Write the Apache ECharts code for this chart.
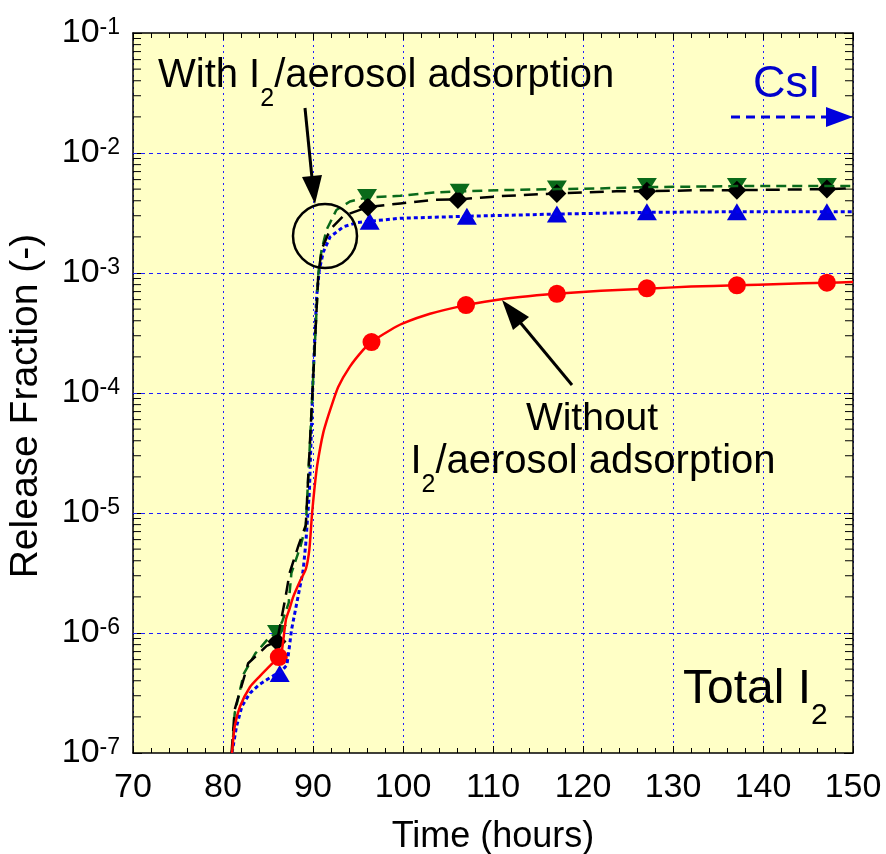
<!DOCTYPE html>
<html>
<head>
<meta charset="utf-8">
<script src="https://cdn.jsdelivr.net/npm/echarts@6/dist/echarts.min.js"></script>
<style>
html, body { margin: 0; padding: 0; background: #fff; }
#chart { width: 886px; height: 854px; }
</style>
</head>
<body>
<div id="chart"></div>
<script>
// Total I2 release fraction vs time (with / without I2-aerosol adsorption)
var xTicks = [70, 80, 90, 100, 110, 120, 130, 140, 150];
var yDecades = [-7, -6, -5, -4, -3, -2, -1];

// red solid : without adsorption
var redLine = [[81.0,1.0e-7],[81.3,1.66e-7],[81.9,2.45e-7],[83.0,3.55e-7],[84.1,4.37e-7],[85.4,5.5e-7],
  [86.2,6.3e-7],[86.5,6.8e-7],[87.0,1.3e-6],[87.4,1.6e-6],[87.8,2.0e-6],[88.6,2.75e-6],[89.2,3.4e-6],
  [89.6,5.0e-6],[89.9,1.0e-5],[90.4,2.3e-5],[90.8,3.5e-5],[91.15,4.7e-5],[91.5,5.8e-5],[91.9,7.2e-5],
  [92.8,1.12e-4],[94.1,1.66e-4],[95.6,2.3e-4],[96.5,2.66e-4],[98.6,3.35e-4],[100,3.8e-4],[103,4.57e-4],
  [107,5.4e-4],[110,5.9e-4],[113,6.3e-4],[117,6.7e-4],[122,7.1e-4],[127,7.4e-4],[132,7.7e-4],
  [137,7.9e-4],[142,8.1e-4],[147,8.3e-4],[150,8.4e-4]];
var redPts = [[86.2,6.3e-7],[96.5,2.66e-4],[107,5.4e-4],[117.1,6.7e-4],[127.1,7.45e-4],[137.1,7.9e-4],[147.1,8.3e-4]];

// blue dotted
var blueLine = [[81.0,1.0e-7],[81.5,1.66e-7],[82.1,2.45e-7],[83.0,3.16e-7],[84.0,3.7e-7],[84.9,4.1e-7],
  [85.8,4.5e-7],[86.5,4.8e-7],[87.1,5.4e-7],[87.4,7.9e-7],[87.6,1.05e-6],[88.2,1.78e-6],[88.9,3.3e-6],
  [89.2,5.6e-6],[89.6,1.5e-5],[90.0,1.3e-4],[90.4,6.3e-4],[90.7,1.06e-3],[91.15,1.5e-3],[91.9,2.0e-3],
  [93.4,2.43e-3],[94.9,2.63e-3],[96.3,2.7e-3],[99.7,2.86e-3],[107.1,2.97e-3],[117.1,3.1e-3],
  [127.1,3.2e-3],[137.1,3.24e-3],[150,3.24e-3]];
var bluePts = [[86.3,4.6e-7],[96.3,2.7e-3],[107.1,2.97e-3],[117.1,3.1e-3],[127.1,3.24e-3],[137.1,3.24e-3],[147.1,3.24e-3]];

// green dashed
var greenLine = [[81.0,1.0e-7],[81.3,2.14e-7],[82.3,4.57e-7],[83.6,6.76e-7],[85.2,9.3e-7],[86.0,1.0e-6],
  [86.6,1.26e-6],[87.3,1.78e-6],[87.6,3.16e-6],[88.6,5.25e-6],[89.2,7.8e-6],[90.6,1.0e-3],[90.95,1.55e-3],
  [91.5,2.29e-3],[92.6,3.35e-3],[94.1,3.94e-3],[96.0,4.27e-3],[99.7,4.4e-3],[103.4,4.68e-3],[106.3,4.79e-3],
  [110.8,4.9e-3],[117.1,5.0e-3],[121.9,5.07e-3],[127.1,5.2e-3],[133,5.25e-3],[137.1,5.3e-3],[150,5.3e-3]];
var greenPts = [[86.0,1.0e-6],[96.0,4.3e-3],[106.3,4.76e-3],[117.1,5.05e-3],[127.1,5.3e-3],[137.1,5.3e-3],[147.1,5.3e-3]];

// black long dashed
var blackLine = [[80.95,1.0e-7],[81.3,2.3e-7],[82.8,5.6e-7],[84.85,7.8e-7],[86.0,8.5e-7],[86.9,1.9e-6],
  [87.4,3.16e-6],[88.4,5.4e-6],[89.2,7.9e-6],[90.6,1.0e-3],[91.0,1.6e-3],[91.9,2.3e-3],[93.4,3.0e-3],
  [96.1,3.55e-3],[99.7,3.8e-3],[103.4,4.07e-3],[106.1,4.1e-3],[110.8,4.37e-3],[117.1,4.6e-3],
  [123.7,4.8e-3],[127.1,4.8e-3],[133,4.9e-3],[137.1,4.9e-3],[147.1,5.0e-3],[150,5.1e-3]];
var blackPts = [[86.0,8.5e-7],[96.1,3.55e-3],[106.1,4.1e-3],[117.1,4.6e-3],[127.1,4.8e-3],[137.1,4.9e-3],[147.1,5.0e-3]];

// decade grid lines and log minor ticks (2..9 in each decade)
var decadeVals = yDecades.slice(1, -1).map(function (e) { return [70, Math.pow(10, e)]; });
var minorMult = [2, 3, 4, 5, 6, 7, 8, 9];
var minorVals = [];
for (var k = -7; k < -1; k++) {
  minorMult.forEach(function (m) { minorVals.push([70, m * Math.pow(10, k)]); });
}

var FONT = 'Liberation Sans, Arial, Helvetica, sans-serif';
var GRIDBLUE = '#1e1eff';
var chart = echarts.init(document.getElementById('chart'));

function xAxisCfg(pos) {
  return {
    type: 'value', min: xTicks[0], max: xTicks[xTicks.length - 1], interval: 10, position: pos,
    axisLine: { show: true, onZero: false, lineStyle: { color: '#000', width: 1.5 } },
    axisTick: { show: true, inside: true, length: 7, lineStyle: { color: '#000' } },
    minorTick: { show: true, splitNumber: 5, length: 5, lineStyle: { color: '#000' } },
    splitLine: { show: pos === 'bottom', lineStyle: { color: GRIDBLUE, type: [2, 4], width: 1 } },
    axisLabel: { show: pos === 'bottom', fontSize: 34, color: '#000', fontFamily: FONT, margin: 18 },
    name: pos === 'bottom' ? 'Time (hours)' : '', nameLocation: 'middle', nameGap: 66,
    nameTextStyle: { fontSize: 36, fontFamily: FONT, color: '#000' }
  };
}
function yAxisCfg(pos) {
  return {
    type: 'log', logBase: 10, min: Math.pow(10, yDecades[0]), max: Math.pow(10, yDecades[yDecades.length - 1]),
    position: pos,
    axisLine: { show: true, onZero: false, lineStyle: { color: '#000', width: 1.5 } },
    axisTick: { show: true, inside: true, length: 9, lineStyle: { color: '#000' } },
    splitLine: { show: false },
    axisLabel: {
      show: pos === 'left', margin: 13, color: '#000', fontFamily: FONT,
      formatter: function (v) { return '{b|10}{e|' + Math.round(Math.log10(v)) + '}'; },
      rich: {
        b: { fontSize: 34, lineHeight: 34, fontFamily: FONT, color: '#000', verticalAlign: 'bottom', padding: [4, 0, 0, 0] },
        e: { fontSize: 23, lineHeight: 23, fontFamily: FONT, color: '#000', verticalAlign: 'top' }
      }
    },
    name: pos === 'left' ? 'Release Fraction (-)' : '', nameLocation: 'middle', nameGap: 87,
    nameTextStyle: { fontSize: 39, fontFamily: FONT, color: '#000', padding: [0, 26, 0, 0] }
  };
}

var richSub = function (size, pad) {
  return {
    a: { fontSize: size, lineHeight: size, fontFamily: FONT, verticalAlign: 'top' },
    s: { fontSize: Math.round(size * 0.62), lineHeight: Math.round(size * 0.62), fontFamily: FONT, verticalAlign: 'top', padding: [pad, 0, 0, 0] }
  };
};

var option = {
  animation: false,
  backgroundColor: '#ffffff',
  grid: { left: 133, right: 33, top: 33, bottom: 101, outerBoundsMode: 'none', containLabel: false,
    show: true, backgroundColor: '#ffffc6', borderWidth: 0 },
  xAxis: [xAxisCfg('bottom'), xAxisCfg('top')],
  yAxis: [yAxisCfg('left'), yAxisCfg('right')],
  series: [
    {
      // horizontal dashed grid lines at each decade
      type: 'custom', silent: true, z: 1, clip: false, encode: { x: 0, y: 1 },
      renderItem: function (params, api) {
        var l = api.coord([70, api.value(1)]);
        var r = api.coord([150, api.value(1)]);
        var y = Math.round(l[1]) + 0.5;
        return { type: 'line', shape: { x1: l[0], y1: y, x2: r[0], y2: y },
          style: { stroke: GRIDBLUE, lineWidth: 1, lineDash: [4, 4] } };
      },
      data: decadeVals
    },
    {
      type: 'custom', silent: true, z: 3, clip: false, encode: { x: 0, y: 1 },
      renderItem: function (params, api) {
        var l = api.coord([70, api.value(1)]);
        var r = api.coord([150, api.value(1)]);
        return { type: 'group', children: [
          { type: 'line', shape: { x1: l[0], y1: l[1], x2: l[0] + 8, y2: l[1] }, style: { stroke: '#000', lineWidth: 1 } },
          { type: 'line', shape: { x1: r[0], y1: r[1], x2: r[0] - 8, y2: r[1] }, style: { stroke: '#000', lineWidth: 1 } }
        ] };
      },
      data: minorVals
    },
    { type: 'line', data: blueLine, showSymbol: false, lineStyle: { color: '#0000ee', width: 3, type: [4, 3] } },
    { type: 'line', data: greenLine, showSymbol: false, lineStyle: { color: '#0a6a1a', width: 2.5, type: [10, 6] } },
    { type: 'line', data: blackLine, showSymbol: false, lineStyle: { color: '#000000', width: 2.5, type: [14, 8] } },
    { type: 'line', data: redLine, showSymbol: false, smooth: 0.2, lineStyle: { color: '#ff0000', width: 2.5 } },
    { type: 'scatter', data: bluePts, symbol: 'triangle', symbolSize: [20, 17], itemStyle: { color: '#0000dd', opacity: 1 } },
    { type: 'scatter', data: greenPts, symbol: 'triangle', symbolRotate: 180, symbolSize: [20, 16], itemStyle: { color: '#0a6a1a', opacity: 1 } },
    { type: 'scatter', data: blackPts, symbol: 'diamond', symbolSize: [19, 19], itemStyle: { color: '#000000', opacity: 1 } },
    { type: 'scatter', data: redPts, symbol: 'circle', symbolSize: 18, itemStyle: { color: '#ff0000', opacity: 1 } }
  ],
  graphic: [
    { type: 'text', x: 158, y: 56, z: 100, style: { text: '{a|With I}{s|2}{a|/aerosol adsorption}', rich: richSub(40, 31), fill: '#000', align: 'left', verticalAlign: 'top' } },
    { type: 'line', z: 100, shape: { x1: 305, y1: 108, x2: 312, y2: 178 }, style: { stroke: '#000', lineWidth: 3 } },
    { type: 'polygon', z: 100, shape: { points: [[315, 204], [322, 175], [302, 177]] }, style: { fill: '#000' } },
    { type: 'circle', z: 100, shape: { cx: 325, cy: 236, r: 32 }, style: { fill: 'none', stroke: '#000', lineWidth: 2.5 } },
    { type: 'text', x: 592, y: 400, z: 100, style: { text: 'Without', font: '39px ' + FONT, fill: '#000', align: 'center', verticalAlign: 'top' } },
    { type: 'text', x: 593, y: 442, z: 100, style: { text: '{a|I}{s|2}{a|/aerosol adsorption}', rich: richSub(40, 31), fill: '#000', align: 'center', verticalAlign: 'top' } },
    { type: 'line', z: 100, shape: { x1: 572, y1: 385, x2: 519, y2: 321 }, style: { stroke: '#000', lineWidth: 3 } },
    { type: 'polygon', z: 100, shape: { points: [[502, 300], [529, 317], [513, 330]] }, style: { fill: '#000' } },
    { type: 'text', x: 683, y: 666, z: 100, style: { text: '{a|Total I}{s|2}', rich: richSub(48, 35), fill: '#000', align: 'left', verticalAlign: 'top' } },
    { type: 'text', x: 753, y: 62, z: 100, style: { text: 'CsI', font: '45px ' + FONT, fill: '#0000cc', align: 'left', verticalAlign: 'top' } },
    { type: 'line', z: 100, shape: { x1: 731, y1: 117, x2: 828, y2: 117 }, style: { stroke: '#0000dd', lineWidth: 3, lineDash: [9, 6] } },
    { type: 'polygon', z: 100, shape: { points: [[826, 107], [853, 117], [826, 127]] }, style: { fill: '#0000dd' } }
  ]
};
chart.setOption(option);
</script>
</body>
</html>
